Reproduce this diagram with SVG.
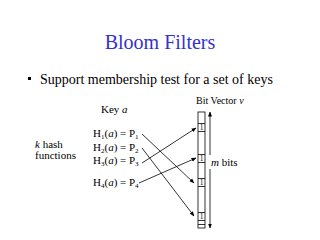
<svg xmlns="http://www.w3.org/2000/svg" width="320" height="240" viewBox="0 0 320 240">
<style>
text{font-family:"Liberation Serif","Times New Roman",serif;fill:#000}
.t{font-size:11px}
.s{font-size:7px}
.bit{font-size:7.5px}
.ln{stroke:#000;stroke-width:0.8;fill:none}
</style>
<defs>
<marker id="ah" viewBox="0 0 10 10" refX="9" refY="5" markerWidth="5" markerHeight="5" orient="auto-start-reverse" markerUnits="userSpaceOnUse">
<path d="M0,1 L10,5 L0,9 Z" fill="#000"/>
</marker>
</defs>
<rect width="320" height="240" fill="#fff"/>
<g id="title"><text x="160" y="49" text-anchor="middle" style="font-size:20px;fill:#3333cc">Bloom Filters</text></g>
<g id="bullet">
<rect x="28" y="77" width="3" height="3" fill="#000"/>
<text x="40" y="84" style="font-size:14px">Support membership test for a set of keys</text>
</g>
<g id="key"><text class="t" x="101" y="113">Key <tspan font-style="italic">a</tspan></text></g>
<g id="bitvector-label"><text x="196" y="104" style="font-size:10px">Bit Vector <tspan font-style="italic">v</tspan></text></g>
<g id="khash">
<text class="t" x="35" y="148"><tspan font-style="italic">k</tspan> hash</text>
<text class="t" x="35" y="159">functions</text>
</g>
<g id="h1"><text class="t" x="93" y="137">H<tspan class="s" dy="2">1</tspan><tspan dy="-2">(</tspan><tspan font-style="italic">a</tspan>) = P<tspan class="s" dy="2">1</tspan></text></g>
<g id="h2"><text class="t" x="93" y="151">H<tspan class="s" dy="2">2</tspan><tspan dy="-2">(</tspan><tspan font-style="italic">a</tspan>) = P<tspan class="s" dy="2">2</tspan></text></g>
<g id="h3"><text class="t" x="93" y="164">H<tspan class="s" dy="2">3</tspan><tspan dy="-2">(</tspan><tspan font-style="italic">a</tspan>) = P<tspan class="s" dy="2">3</tspan></text></g>
<g id="h4"><text class="t" x="93" y="186">H<tspan class="s" dy="2">4</tspan><tspan dy="-2">(</tspan><tspan font-style="italic">a</tspan>) = P<tspan class="s" dy="2">4</tspan></text></g>
<g id="vector">
<rect x="198" y="112" width="7" height="116" class="ln"/>
<path class="ln" d="M198,123.5H205M198,131.5H205M198,154.5H205M198,162.5H205M198,178.5H205M198,186.5H205M198,212.5H205M198,220.5H205M198,224.5H205"/>
<text class="bit" x="201.5" y="130" text-anchor="middle">1</text>
<text class="bit" x="201.5" y="161" text-anchor="middle">1</text>
<text class="bit" x="201.5" y="185" text-anchor="middle">1</text>
<text class="bit" x="201.5" y="219" text-anchor="middle">1</text>
</g>
<g id="mbits">
<text class="t" x="211" y="166"><tspan font-style="italic">m</tspan> bits</text>
</g>
<g id="connectors">
<line class="ln" x1="210" y1="155" x2="210" y2="112" marker-end="url(#ah)"/>
<line class="ln" x1="210" y1="169" x2="210" y2="228" marker-end="url(#ah)"/>
<line class="ln" x1="142" y1="134" x2="194" y2="183" marker-end="url(#ah)"/>
<line class="ln" x1="142" y1="148" x2="194" y2="216" marker-end="url(#ah)"/>
<line class="ln" x1="142" y1="163" x2="196" y2="128" marker-end="url(#ah)"/>
<line class="ln" x1="139" y1="183" x2="196" y2="158" marker-end="url(#ah)"/>
</g>
</svg>
